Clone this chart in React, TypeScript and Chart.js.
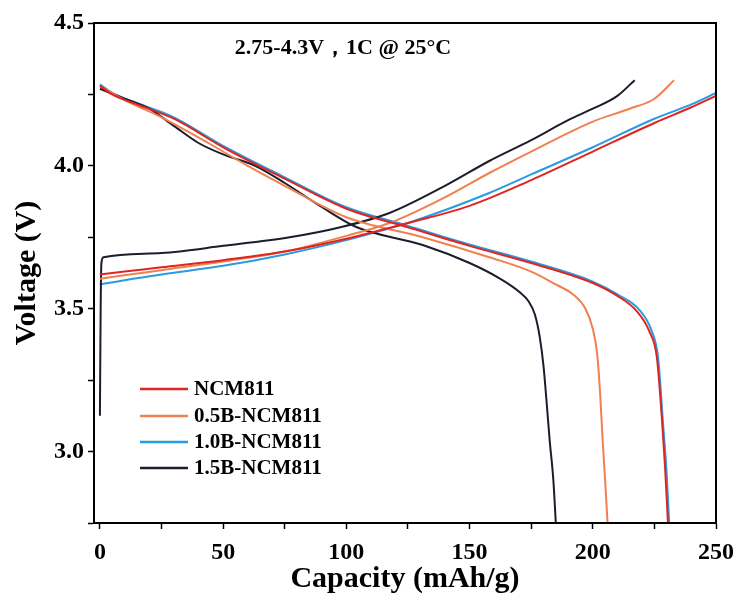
import React, { useEffect, useRef } from "react";
import { Chart, registerables } from "chart.js";

Chart.register(...registerables);

// ---- Data (capacity mAh/g, voltage V) ----
const seriesNames = ["NCM811", "0.5B-NCM811", "1.0B-NCM811", "1.5B-NCM811"];
const seriesColors = ["#e0241f", "#f08050", "#2a9be0", "#1b1d2b"];

const ncmChargeCap = [0, 10, 25, 50, 75, 100, 125, 150, 175, 200, 225, 240, 250];
const ncmChargeV = [3.62, 3.63, 3.645, 3.67, 3.7, 3.745, 3.8, 3.86, 3.95, 4.05, 4.15, 4.205, 4.245];
const ncmDisCap = [0, 5, 15, 30, 50, 75, 100, 125, 150, 175, 200, 210, 218, 223, 226, 228, 229.3, 230.5];
const ncmDisV = [4.28, 4.25, 4.215, 4.165, 4.065, 3.955, 3.85, 3.785, 3.72, 3.66, 3.59, 3.545, 3.49, 3.42, 3.33, 3.12, 2.95, 2.75];

const b05ChargeCap = [0, 25, 50, 75, 100, 117.5, 140, 158, 175, 200, 215, 225, 233];
const b05ChargeV = [3.605, 3.635, 3.665, 3.7, 3.755, 3.8, 3.89, 3.975, 4.05, 4.155, 4.2, 4.235, 4.3];
const b05DisCap = [0, 10, 25, 44, 60, 75, 100, 131, 158, 175, 185, 192, 197, 200, 201.8, 203, 204, 205, 206];
const b05DisV = [4.28, 4.23, 4.17, 4.08, 4.0, 3.93, 3.82, 3.75, 3.68, 3.63, 3.585, 3.55, 3.5, 3.43, 3.34, 3.2, 3.04, 2.9, 2.75];

const b10ChargeCap = [0, 10, 25, 50, 75, 100, 117, 125, 158, 175, 200, 225, 240, 250];
const b10ChargeV = [3.585, 3.6, 3.62, 3.65, 3.69, 3.74, 3.78, 3.8, 3.905, 3.97, 4.065, 4.165, 4.215, 4.255];
const b10DisCap = [0, 5, 15, 30, 50, 75, 100, 125, 150, 175, 200, 210, 219, 224, 226.5, 228.5, 230, 231];
const b10DisV = [4.285, 4.255, 4.22, 4.17, 4.07, 3.96, 3.855, 3.79, 3.725, 3.665, 3.595, 3.55, 3.495, 3.42, 3.33, 3.1, 2.92, 2.75];

const b15ChargeCap = [0, 0.3, 0.6, 1.5, 25, 50, 77, 98, 117.5, 140, 158, 175, 190, 200, 210, 217];
const b15ChargeV = [3.125, 3.5, 3.66, 3.68, 3.695, 3.72, 3.75, 3.786, 3.835, 3.93, 4.017, 4.09, 4.16, 4.2, 4.245, 4.3];
const b15DisCap = [0, 10, 20, 30, 40, 50, 63, 75, 90, 104, 131, 150, 162, 170, 174, 176.5, 178.5, 180, 181.2, 182.5, 184, 185];
const b15DisV = [4.27, 4.235, 4.2, 4.14, 4.08, 4.04, 4.0, 3.94, 3.856, 3.786, 3.723, 3.66, 3.607, 3.56, 3.525, 3.48, 3.4, 3.3, 3.18, 3.04, 2.9, 2.75];

const xTickLabels = [0, 50, 100, 150, 200, 250];
const yTickLabels = [3.0, 3.5, 4.0, 4.5];

const titleText = "2.75-4.3V，1C @ 25°C";

const toPts = (xs: number[], ys: number[]) => xs.map((x, i) => ({ x, y: ys[i] }));

const curves = [
  { s: 0, cap: ncmChargeCap, v: ncmChargeV },
  { s: 0, cap: ncmDisCap, v: ncmDisV },
  { s: 1, cap: b05ChargeCap, v: b05ChargeV },
  { s: 1, cap: b05DisCap, v: b05DisV },
  { s: 2, cap: b10ChargeCap, v: b10ChargeV },
  { s: 2, cap: b10DisCap, v: b10DisV },
  { s: 3, cap: b15ChargeCap, v: b15ChargeV },
  { s: 3, cap: b15DisCap, v: b15DisV },
];

const FONT = '"Liberation Serif", "Times New Roman", serif';

const overlayPlugin = {
  id: "overlay",
  afterDatasetsDraw(chart: any) {
    const { ctx, chartArea } = chart;
    ctx.save();
    ctx.strokeStyle = "#000";
    ctx.lineWidth = 2;
    ctx.strokeRect(chartArea.left, chartArea.top, chartArea.right - chartArea.left, chartArea.bottom - chartArea.top);
    ctx.fillStyle = "#000";
    ctx.font = `bold 22px ${FONT}`;
    ctx.textAlign = "center";
    ctx.textBaseline = "middle";
    ctx.fillText(titleText, 343, 48);
    ctx.font = `bold 21px ${FONT}`;
    ctx.textAlign = "left";
    const rows = [389, 416, 442, 468];
    seriesNames.forEach((name, i) => {
      ctx.strokeStyle = seriesColors[i];
      ctx.lineWidth = 2.5;
      ctx.beginPath();
      ctx.moveTo(140, rows[i]);
      ctx.lineTo(188, rows[i]);
      ctx.stroke();
      ctx.fillStyle = "#000";
      ctx.fillText(name, 194, rows[i] + 1);
    });
    ctx.restore();
  },
};

export default function App() {
  const ref = useRef<HTMLCanvasElement | null>(null);
  useEffect(() => {
    if (!ref.current) return;
    const order = [0, 1, 2, 3, 6, 7, 4, 5];
    const chart = new Chart(ref.current, {
      type: "line",
      data: {
        datasets: order.map((k) => {
          const c = curves[k];
          return {
            label: seriesNames[c.s],
            data: toPts(c.cap, c.v),
            borderColor: seriesColors[c.s],
            backgroundColor: seriesColors[c.s],
            borderWidth: 2,
            pointRadius: 0,
            fill: false,
            tension: 0.4,
            cubicInterpolationMode: "monotone" as const,
          };
        }),
      },
      options: {
        animation: false,
        responsive: false,
        layout: { padding: { left: 0, top: 23, right: 25, bottom: 0 } },
        plugins: { legend: { display: false }, tooltip: { enabled: false } },
        scales: {
          x: {
            type: "linear",
            min: -2.4,
            max: 250,
            afterFit: (s: any) => {
              s.height = 75;
              s.paddingLeft = 0;
              s.paddingRight = 0;
            },
            border: { display: true, color: "#000", width: 2 },
            grid: { drawOnChartArea: false, drawTicks: true, tickLength: 6, tickColor: "#000", tickWidth: 1.5 },
            ticks: {
              stepSize: 25,
              includeBounds: false,
              autoSkip: false,
              maxRotation: 0,
              color: "#000",
              padding: 9,
              font: { family: FONT, weight: "bold", size: 24 },
              callback: (v: any) => (xTickLabels.includes(Number(v)) ? String(v) : ""),
            },
            title: {
              display: true,
              text: "Capacity (mAh/g)",
              color: "#000",
              font: { family: FONT, weight: "bold", size: 30 },
              padding: { top: 0, bottom: 1 },
            },
          },
          y: {
            type: "linear",
            min: 2.75,
            max: 4.5,
            afterFit: (s: any) => {
              s.width = 94;
              s.paddingTop = 0;
              s.paddingBottom = 0;
            },
            border: { display: true, color: "#000", width: 2 },
            grid: { drawOnChartArea: false, drawTicks: true, tickLength: 6, tickColor: "#000", tickWidth: 1.5 },
            ticks: {
              stepSize: 0.25,
              includeBounds: false,
              autoSkip: false,
              color: "#000",
              padding: 4,
              font: { family: FONT, weight: "bold", size: 24 },
              callback: (v: any) => {
                const n = Number(v);
                const hit = yTickLabels.find((t) => Math.abs(t - n) < 1e-6);
                return hit !== undefined ? hit.toFixed(1) : "";
              },
            },
            title: {
              display: true,
              text: "Voltage (V)",
              color: "#000",
              font: { family: FONT, weight: "bold", size: 30 },
              padding: { top: 9, bottom: 0 },
            },
          },
        },
      },
      plugins: [overlayPlugin],
    });
    return () => chart.destroy();
  }, []);
  return (
    <div style={{ position: "absolute", left: 0, top: 0, width: 741, height: 598, background: "#fff" }}>
      <canvas ref={ref} width={741} height={598} />
    </div>
  );
}
